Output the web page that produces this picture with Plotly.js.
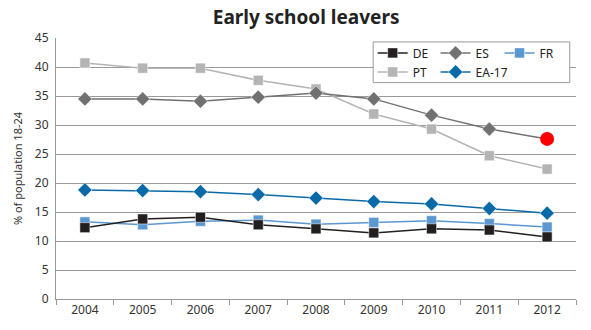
<!DOCTYPE html>
<html>
<head>
<meta charset="utf-8">
<script src="https://cdn.plot.ly/plotly-3.0.1.min.js"></script>
<style>html,body{margin:0;padding:0;background:#fff;}#chart{width:591px;height:330px;}</style>
</head>
<body>
<div id="chart"></div>
<script>
var years = ['2004','2005','2006','2007','2008','2009','2010','2011','2012'];
var DE   = [12.3, 13.8, 14.1, 12.8, 12.1, 11.4, 12.1, 11.9, 10.7];
var ES   = [34.5, 34.5, 34.1, 34.8, 35.5, 34.5, 31.7, 29.3, 27.6];
var FR   = [13.3, 12.8, 13.4, 13.6, 12.9, 13.2, 13.5, 13.0, 12.4];
var PT   = [40.7, 39.8, 39.8, 37.7, 36.2, 31.9, 29.3, 24.7, 22.4];
var EA17 = [18.8, 18.7, 18.5, 18.0, 17.4, 16.8, 16.4, 15.6, 14.8];
var highlightYear = ['2012'];
var highlightValue = [27.6];

var F = '"Noto Sans", "Open Sans", sans-serif';
function tr(name, y, color, symbol, size, legend) {
  return {x: years, y: y, name: name, type: 'scatter', mode: 'lines+markers',
    line: {color: color, width: 1.5},
    marker: {color: color, symbol: symbol, size: size, line: {color: '#ffffff', width: 0.5}},
    legend: legend};
}
var data = [
  tr('FR', FR, '#5b97d0', 'square', 10, 'legend3'),
  tr('DE', DE, '#231f20', 'square', 10, 'legend'),
  tr('PT', PT, '#b4b4b4', 'square', 10, 'legend4'),
  tr('ES', ES, '#717171', 'diamond', 11, 'legend2'),
  tr('EA-17', EA17, '#0a6aa8', 'diamond', 11, 'legend5'),
  {x: highlightYear, y: highlightValue, type: 'scatter', mode: 'markers', showlegend: false,
   marker: {color: '#ff0000', size: 14, symbol: 'circle'}}
];
function leg(x, y) {
  return {orientation: 'v', x: x, y: y, xanchor: 'left', yanchor: 'middle', bgcolor: 'rgba(0,0,0,0)',
    borderwidth: 0, itemwidth: 30, font: {family: F, size: 12, color: '#222'}};
}
var layout = {
  width: 591, height: 330,
  margin: {l: 56, r: 15, t: 38, b: 31},
  paper_bgcolor: '#fff', plot_bgcolor: '#fff',
  font: {family: F, size: 12, color: '#333'},
  title: {text: '<b>Early school leavers</b>', x: 0.518, xanchor: 'center', y: 0.948, yanchor: 'middle',
    font: {family: F, size: 19, color: '#222'}},
  showlegend: true,
  legend: leg(0.609, 0.943),
  legend2: leg(0.730, 0.943),
  legend3: leg(0.853, 0.943),
  legend4: leg(0.609, 0.870),
  legend5: leg(0.730, 0.870),
  xaxis: {type: 'category', range: [-0.5, 8.5], showgrid: false, showline: true, linecolor: '#999', linewidth: 1,
    ticks: 'outside', tickson: 'boundaries', ticklen: 5, tickcolor: '#999',
    tickfont: {family: F, size: 12, color: '#333'}, fixedrange: true},
  yaxis: {range: [0, 45], dtick: 5, tick0: 0, showgrid: true, gridcolor: '#999', gridwidth: 1,
    showline: true, linecolor: '#999', zeroline: false, ticks: '', ticklabelstandoff: 4,
    tickfont: {family: F, size: 12, color: '#333'},
    title: {text: '% of population 18-24', font: {family: F, size: 11, color: '#333'}, standoff: 10}},
  shapes: [{type: 'rect', xref: 'paper', yref: 'paper', x0: 0.61, x1: 0.988, y0: 0.829, y1: 0.985,
    fillcolor: '#ffffff', line: {color: '#999', width: 1}, layer: 'above'}]
};
Plotly.newPlot('chart', data, layout, {displayModeBar: false, staticPlot: true});
</script>
</body>
</html>
